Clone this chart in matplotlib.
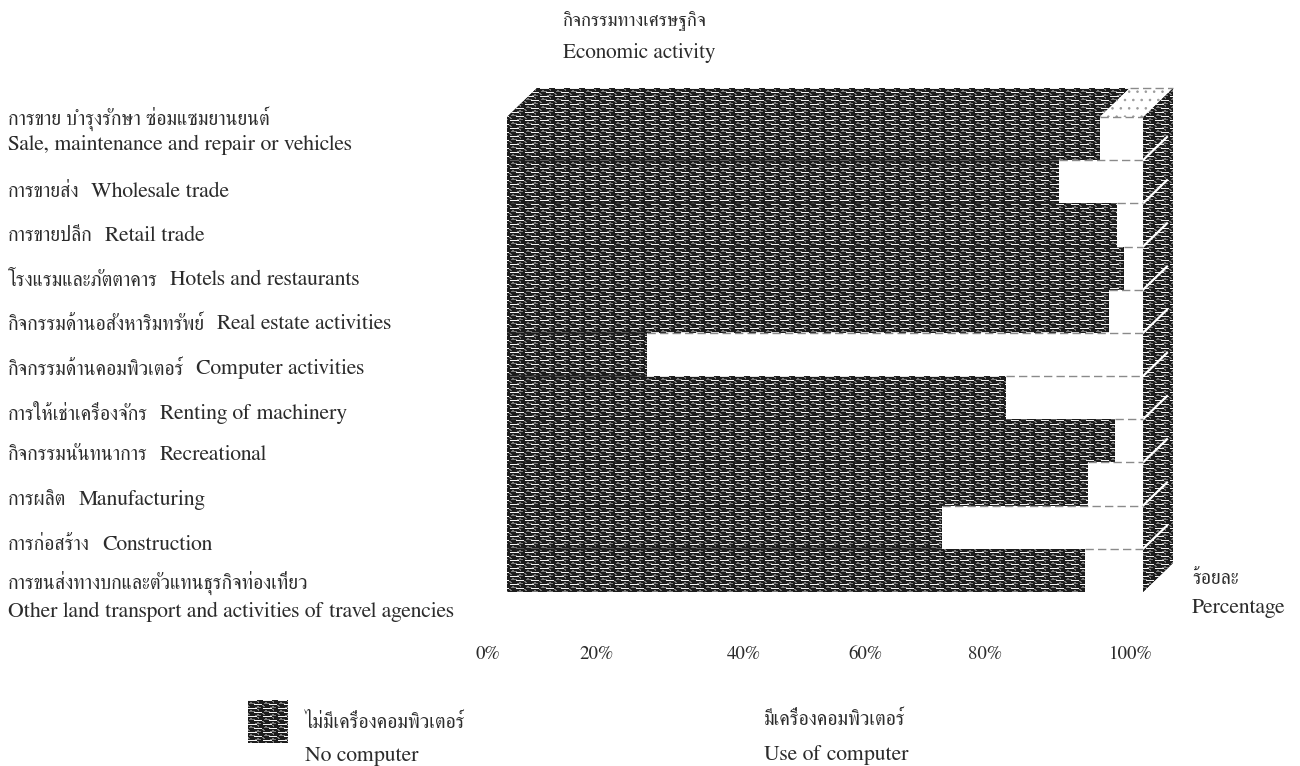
import numpy as np
import matplotlib
matplotlib.use('Agg')
import matplotlib.pyplot as plt
from matplotlib.colors import ListedColormap
from matplotlib.path import Path
from matplotlib.patches import Polygon

plt.rcParams['font.family'] = ['FreeSerif', 'DejaVu Sans']

W, H = 1300, 766

# data, top bar first
labels_th = ['การขาย บำรุงรักษา ซ่อมแซมยานยนต์', 'การขายส่ง', 'การขายปลีก', 'โรงแรมและภัตตาคาร',
             'กิจกรรมด้านอสังหาริมทรัพย์', 'กิจกรรมด้านคอมพิวเตอร์', 'การให้เช่าเครื่องจักร',
             'กิจกรรมนันทนาการ', 'การผลิต', 'การก่อสร้าง',
             'การขนส่งทางบกและตัวแทนธุรกิจท่องเที่ยว']
labels_en = ['Sale, maintenance and repair or vehicles', 'Wholesale trade', 'Retail trade',
             'Hotels and restaurants', 'Real estate activities', 'Computer activities',
             'Renting of machinery', 'Recreational', 'Manufacturing', 'Construction',
             'Other land transport and activities of travel agencies']
no_computer = [93.2, 86.8, 95.9, 97.0, 94.7, 22.0, 78.5, 95.6, 91.4, 68.4, 90.9]
use_computer = [6.8, 13.2, 4.1, 3.0, 5.3, 78.0, 21.5, 4.4, 8.6, 31.6, 9.1]
tick_labels = ['0%', '20%', '40%', '60%', '80%', '100%']

# label positions, in pixels of the figure
tick_px = [488, 597, 744, 865, 985, 1131]
label_th_py = [118, 192, 236, 280, 324, 369, 414, 455, 500, 545, 583]
label_en_py = [145, 192, 236, 280, 324, 369, 414, 455, 500, 545, 612]

txt = '#2b2b2b'
fs_en = 15.7
fs_th = 14.2

# one brick of the scanned fill pattern
brick_rows = ['wwwwwwwww......',
              '.........gg....',
              '..gg......g....',
              '.gggggg........',
              '......wwwwwwww.',
              'g.............g',
              'gg.......gg....',
              '.......gggggg..']
fill_cmap = ListedColormap(['#1c1c1c', '#7a7a7a', '#f4f4f4'])


def texture(w, h):
    tile = np.array([['.gw'.index(c) for c in r] for r in brick_rows])
    t = np.tile(tile, (h // tile.shape[0] + 1, w // tile.shape[1] + 1))
    return t[:h, :w]


def put(x, y, s, **kw):
    # x, y in pixels from the top left
    kw.setdefault('fontsize', fs_en)
    kw.setdefault('color', txt)
    kw.setdefault('va', 'center')
    return fig.text(x / W, 1 - y / H, s, **kw)


fig = plt.figure(figsize=(W / 100, H / 100), dpi=100)
ax = fig.add_axes([507 / W, 1 - 592 / H, 636 / W, 475 / H])
ax.set_xlim(0, 100)
ax.set_ylim(10.5, -0.5)
ax.set_autoscale_on(False)
ax.axis('off')

y = np.arange(len(no_computer))
dep_x = 30 / 6.36   # depth of the fake 3D box, in data units
dep_y = 29 / 43.18
top = y[0] - 0.5

bars = ax.barh(y, no_computer, height=1, color='#1c1c1c', linewidth=0, zorder=1)
ax.barh(y, use_computer, left=no_computer, height=1, color='white', linewidth=0, zorder=4)


def skew(x0, x1, y0):
    return [(x0, y0), (x1, y0), (x1 + dep_x, y0 - dep_y), (x0 + dep_x, y0 - dep_y)]


top_dark = skew(0, no_computer[0], top)
top_white = skew(no_computer[0], 100, top)
side = [(100, top), (100 + dep_x, top - dep_y), (100 + dep_x, y[-1] + 0.5 - dep_y), (100, y[-1] + 0.5)]

ax.add_patch(Polygon(top_dark, closed=True, color='#1c1c1c', lw=0, clip_on=False, zorder=1))
ax.add_patch(Polygon(side, closed=True, color='#1c1c1c', lw=0, clip_on=False, zorder=1))
plt.rcParams['hatch.linewidth'] = 0.6
ax.add_patch(Polygon(top_white, closed=True, facecolor='white', edgecolor='#9a9a9a', hatch='..',
                     lw=0, clip_on=False, zorder=4))

# texture only inside the dark shapes
shapes = [b.get_path().transformed(b.get_patch_transform()) for b in bars]
for poly in (top_dark, side):
    shapes.append(Path(poly + [poly[0]], closed=True))
clip = Path.make_compound_path(*shapes)

x0, y0 = 495, 80
x1, y1 = 1185, 600
inv = ax.transData.inverted()
(ex0, ey0), (ex1, ey1) = inv.transform([(x0, H - y0), (x1, H - y1)])
im = ax.imshow(texture(x1 - x0, y1 - y0), cmap=fill_cmap, vmin=0, vmax=2, extent=(ex0, ex1, ey1, ey0),
               aspect='auto', interpolation='nearest', zorder=2)
im.set_clip_path(clip, transform=ax.transData)
im.set_clip_box(fig.bbox)

# darker seams between the bars
for i in range(1, len(y)):
    b = y[i] - 0.5
    ax.plot([0, min(no_computer[i - 1], no_computer[i])], [b, b], color='#1c1c1c', lw=1.5, alpha=0.7,
            solid_capstyle='butt', zorder=3)

# white diagonals on the side wall and dashed tops of the white parts
for i in range(1, len(y)):
    b = y[i] - 0.5
    ax.plot([100, 100 + dep_x * 0.8], [b, b - dep_y * 0.8], color='white', lw=1.6, clip_on=False, zorder=5)
for i in range(len(y)):
    b = y[i] - 0.5
    ax.plot([no_computer[i], 100], [b, b], color='#8a8a8a', lw=1, ls=(0, (6, 3)), clip_on=False, zorder=6)
ax.plot([no_computer[0] + dep_x, 100 + dep_x], [top - dep_y, top - dep_y], color='#8a8a8a', lw=1,
        ls=(0, (6, 3)), clip_on=False, zorder=6)

# texts
put(563, 21, 'กิจกรรมทางเศรษฐกิจ', fontsize=13.4)
put(563, 53, 'Economic activity', fontsize=15.4)

renderer = fig.canvas.get_renderer()
for i in range(len(labels_en)):
    t = put(8, label_th_py[i], labels_th[i], fontsize=fs_th)
    if label_th_py[i] == label_en_py[i]:
        # english follows the thai on the same line
        end = t.get_window_extent(renderer).x1
        put(end + 12, label_en_py[i], labels_en[i])
    else:
        put(8, label_en_py[i], labels_en[i])

for px, s in zip(tick_px, tick_labels):
    put(px, 654, s, ha='center', fontsize=13.6)

put(1192, 579, 'ร้อยละ', fontsize=fs_th)
put(1192, 608, 'Percentage')

# legend
swatch = fig.add_axes([248 / W, 1 - 743 / H, 40 / W, 43 / H])
swatch.axis('off')
swatch.imshow(texture(40, 43), cmap=fill_cmap, vmin=0, vmax=2, aspect='auto', interpolation='nearest')
put(305, 722, 'ไม่มีเครื่องคอมพิวเตอร์', fontsize=fs_th)
put(305, 756, 'No computer')
put(764, 719, 'มีเครื่องคอมพิวเตอร์', fontsize=fs_th)
put(764, 755, 'Use of computer')

fig.savefig('out.png', dpi=100)
